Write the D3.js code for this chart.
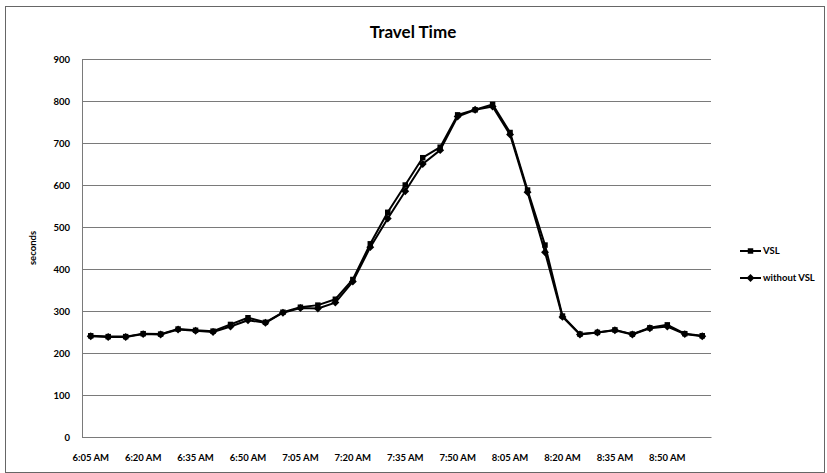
<!DOCTYPE html>
<html>
<head>
<meta charset="utf-8">
<script src="https://cdn.jsdelivr.net/npm/d3@7"></script>
<style>
  body { margin: 0; background: #fff; }
  svg { display: block; }
  text { font-family: Lato, "Open Sans", sans-serif; }
</style>
</head>
<body>
<svg id="chart" width="827" height="473"></svg>
<script>
const times = ["6:05 AM","6:10 AM","6:15 AM","6:20 AM","6:25 AM","6:30 AM","6:35 AM","6:40 AM","6:45 AM","6:50 AM",
  "6:55 AM","7:00 AM","7:05 AM","7:10 AM","7:15 AM","7:20 AM","7:25 AM","7:30 AM","7:35 AM","7:40 AM",
  "7:45 AM","7:50 AM","7:55 AM","8:00 AM","8:05 AM","8:10 AM","8:15 AM","8:20 AM","8:25 AM","8:30 AM",
  "8:35 AM","8:40 AM","8:45 AM","8:50 AM","8:55 AM","9:00 AM"];
const vsl = [241,239,239,246,245,257,254,252,268,284,273,297,309,314,328,375,460,535,600,665,
  690,767,779,792,725,588,457,288,245,249,255,245,260,267,246,241];
const withoutVsl = [240,238,238,245,244,256,253,250,263,278,272,296,307,306,320,370,452,520,585,650,
  683,763,779,787,720,583,440,286,244,249,254,244,259,263,245,240];
const yTicks = [0,100,200,300,400,500,600,700,800,900];
const xTickLabels = ["6:05 AM","6:20 AM","6:35 AM","6:50 AM","7:05 AM","7:20 AM","7:35 AM","7:50 AM","8:05 AM","8:20 AM","8:35 AM","8:50 AM"];
const seriesNames = ["VSL","without VSL"];

const svg = d3.select("#chart");
const W = 827, H = 473;
const m = {left: 82, right: 116, top: 59, bottom: 36};
const pw = W - m.left - m.right, ph = H - m.top - m.bottom;

// outer frame
svg.append("rect").attr("x", 5.5).attr("y", 6.5).attr("width", 819).attr("height", 466)
  .attr("fill", "none").attr("stroke", "#666").attr("stroke-width", 1);

svg.append("text").attr("x", 413).attr("y", 38).attr("text-anchor", "middle")
  .attr("font-size", 17).attr("font-weight", "bold").text("Travel Time");

const g = svg.append("g").attr("transform", `translate(${m.left},${m.top})`);

const x = d3.scaleBand().domain(times).range([0, pw]);
const y = d3.scaleLinear().domain([0, 900]).range([ph, 0]);

// gridlines
g.append("g").selectAll("line").data(yTicks).join("line")
  .attr("x1", 0).attr("x2", pw)
  .attr("y1", d => Math.round(y(d)) + 0.5).attr("y2", d => Math.round(y(d)) + 0.5)
  .attr("stroke", "#7a7a7a").attr("stroke-width", 1);

// y axis
const yAxis = g.append("g").call(d3.axisLeft(y).tickValues(yTicks).tickSize(0).tickPadding(12));
yAxis.select(".domain").attr("stroke", "#7a7a7a");
yAxis.selectAll("text").attr("font-size", 9.5).attr("font-weight", "bold").attr("fill", "#000")
  .attr("font-family", "Lato, sans-serif");

// x axis
const xAxis = g.append("g").attr("transform", `translate(0,${ph})`)
  .call(d3.axisBottom(x).tickValues(xTickLabels).tickSize(0).tickPadding(17));
xAxis.select(".domain").attr("stroke", "#7a7a7a");
xAxis.selectAll("text").attr("font-size", 9.5).attr("font-weight", "bold").attr("fill", "#000")
  .attr("font-family", "Lato, sans-serif");

svg.append("text").attr("transform", `translate(36,${m.top + ph/2}) rotate(-90)`)
  .attr("text-anchor", "middle").attr("font-size", 9.5).attr("font-weight", "bold").text("seconds");

const cx = d => x(d) + x.bandwidth()/2;
const line = d3.line().x((d,i) => cx(times[i])).y(d => y(d));

const series = [
  {name: seriesNames[0], values: vsl, shape: d3.symbolSquare, size: 30},
  {name: seriesNames[1], values: withoutVsl, shape: d3.symbolDiamond2 || d3.symbolDiamond, size: 40}
];

series.forEach(s => {
  g.append("path").datum(s.values).attr("d", line)
    .attr("fill", "none").attr("stroke", "#000").attr("stroke-width", 2).attr("stroke-linejoin", "round");
  g.append("g").selectAll("path").data(s.values).join("path")
    .attr("transform", (d,i) => `translate(${cx(times[i])},${y(d)})`)
    .attr("d", d3.symbol(s.shape, s.size)).attr("fill", "#000");
});

// legend
const lg = svg.append("g").attr("transform", "translate(740,251)");
series.forEach((s, i) => {
  const row = lg.append("g").attr("transform", `translate(0,${i*27})`);
  row.append("line").attr("x1", 0).attr("x2", 21).attr("y1", 0).attr("y2", 0)
    .attr("stroke", "#000").attr("stroke-width", 2);
  row.append("path").attr("transform", "translate(10.5,0)").attr("d", d3.symbol(s.shape, s.size)).attr("fill", "#000");
  row.append("text").attr("x", 23).attr("y", 3).attr("font-size", 9.5).attr("font-weight", "bold").text(s.name);
});
</script>
</body>
</html>
